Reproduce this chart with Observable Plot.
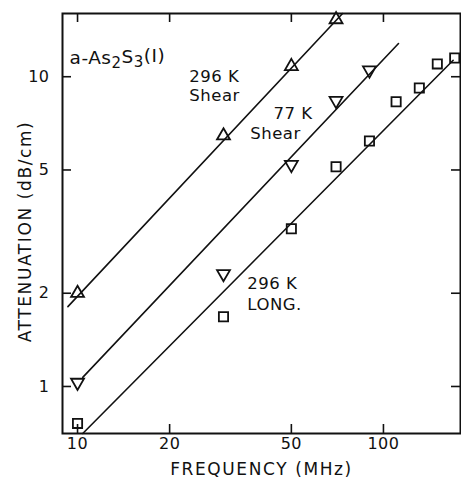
<!DOCTYPE html>
<html>
<head>
<meta charset="utf-8">
<script src="https://cdn.jsdelivr.net/npm/d3@7"></script>
<script src="https://cdn.jsdelivr.net/npm/@observablehq/plot@0.6"></script>
<style>
  body { margin: 0; background: #fff; }
  #chart svg { display: block; }
</style>
</head>
<body>
<div id="chart"></div>
<script>
// ---- data ----
const xTicks = [10, 20, 50, 100];
const yTicks = [1, 2, 5, 10];

// 296 K shear (open up-triangles)
const shear296Freq = [10, 30, 50, 70];
const shear296Att  = [2.0, 6.45, 10.8, 15.3];
// 77 K shear (open down-triangles)
const shear77Freq = [10, 30, 50, 70, 90];
const shear77Att  = [1.03, 2.31, 5.2, 8.37, 10.5];
// 296 K longitudinal (open squares)
const long296Freq = [10, 30, 50, 70, 90, 110, 131, 150, 171];
const long296Att  = [0.76, 1.68, 3.23, 5.12, 6.2, 8.3, 9.2, 11.0, 11.5];

// straight-line fits (end points)
const fit296ShearFreq = [9.3, 73.5];
const fit296ShearAtt  = [1.81, 16];
const fit77ShearFreq  = [10.4, 112];
const fit77ShearAtt   = [1.07, 12.8];
const fit296LongFreq  = [10.4, 169];
const fit296LongAtt   = [0.705, 11.3];

// annotations
const noteText = ["296 K", "Shear", "77 K", "Shear", "296 K", "LONG."];
const noteFreq = [23.2, 23.2, 43.7, 36.7, 35.9, 35.9];
const noteAtt  = [10.0, 8.69, 7.6, 6.55, 2.15, 1.83];
const sampleText = "a-As2S3(I)";
const sampleFreq = 9.42;
const sampleAtt = 11.5;

const xDomain = [8.93, 178.6];
const yDomain = [0.705, 16];

// ---- build ----
const pts = (f, a) => f.map((x, i) => ({f: x, a: a[i]}));
const notes = noteText.map((t, i) => ({t, f: noteFreq[i], a: noteAtt[i]}));

const font = "DejaVu Sans";
const W = 461, H = 484, mL = 62, mR = 1, mT = 13, mB = 51, tick = 9;
const frameW = W - mL - mR, frameH = H - mT - mB;

const chart = Plot.plot({
  width: W,
  height: H,
  marginLeft: mL,
  marginRight: mR,
  marginTop: mT,
  marginBottom: mB,
  style: {fontFamily: font, fontSize: "15px", color: "#111", background: "#fff", letterSpacing: "0.5px"},
  x: {type: "log", domain: xDomain, axis: null},
  y: {type: "log", domain: yDomain, axis: null},
  marks: [
    Plot.frame({stroke: "#111", strokeWidth: 2}),
    // tick labels
    Plot.text(xTicks, {x: d => d, frameAnchor: "bottom", dy: 15, text: d => String(d), fontSize: 16, fill: "#111"}),
    Plot.text(yTicks, {y: d => d, frameAnchor: "left", dx: -13, textAnchor: "end", text: d => String(d), fontSize: 16, fill: "#111"}),
    // inward ticks on all four sides
    Plot.tickX(xTicks, {x: d => d, insetTop: frameH - tick, stroke: "#111", strokeWidth: 1.6}),
    Plot.tickX(xTicks, {x: d => d, insetBottom: frameH - tick, stroke: "#111", strokeWidth: 1.6}),
    Plot.tickY(yTicks, {y: d => d, insetRight: frameW - tick, stroke: "#111", strokeWidth: 1.6}),
    Plot.tickY(yTicks, {y: d => d, insetLeft: frameW - tick, stroke: "#111", strokeWidth: 1.6}),
    // axis titles
    Plot.text(["ATTENUATION (dB/cm)"], {frameAnchor: "left", dx: -37, dy: 8, rotate: -90, fontSize: 17, text: d => d, textAnchor: "middle", fill: "#111"}),
    Plot.text(["FREQUENCY (MHz)"], {frameAnchor: "bottom", dy: 41, fontSize: 17, text: d => d, textAnchor: "middle", fill: "#111"}),
    // fit lines
    Plot.line(pts(fit296ShearFreq, fit296ShearAtt), {x: "f", y: "a", stroke: "#111", strokeWidth: 1.6}),
    Plot.line(pts(fit77ShearFreq, fit77ShearAtt), {x: "f", y: "a", stroke: "#111", strokeWidth: 1.6}),
    Plot.line(pts(fit296LongFreq, fit296LongAtt), {x: "f", y: "a", stroke: "#111", strokeWidth: 1.6}),
    // data points
    Plot.dot(pts(shear296Freq, shear296Att), {x: "f", y: "a", symbol: "triangle", r: 4.8, stroke: "#111", strokeWidth: 1.8, fill: "none"}),
    Plot.dot(pts(shear77Freq, shear77Att), {x: "f", y: "a", symbol: "triangle", rotate: 180, r: 4.8, stroke: "#111", strokeWidth: 1.8, fill: "none"}),
    Plot.dot(pts(long296Freq, long296Att), {x: "f", y: "a", symbol: "square", r: 5.2, stroke: "#111", strokeWidth: 1.8, fill: "none"}),
    // annotations
    Plot.text(notes, {x: "f", y: "a", text: "t", textAnchor: "start", fontSize: 16.5, fill: "#111"}),
    Plot.text([sampleText], {x: () => sampleFreq, y: () => sampleAtt, text: d => d, textAnchor: "start", fontSize: 18.5, fill: "#111"})
  ]
});
document.getElementById("chart").appendChild(chart);

// wider lettering for axis titles (reference lettering is broad)
d3.select(chart).selectAll("text").filter(function() {
  const t = this.textContent;
  return t === "ATTENUATION (dB/cm)" || t === "FREQUENCY (MHz)";
}).style("letter-spacing", "1.6px");

// real subscripts in the sample label
d3.select(chart).selectAll("text").filter(function() { return this.textContent === sampleText; })
  .each(function() {
    const el = d3.select(this);
    el.text(null);
    const parts = [["a-As", false], ["2", true], ["S", false], ["3", true], ["(I)", false]];
    for (const [s, sub] of parts) {
      const ts = el.append("tspan").text(s);
      if (sub) ts.attr("font-size", "15px").attr("dy", "0.3em");
      else ts.attr("dy", s === "a-As" ? null : "-0.3em");
    }
  });
</script>
</body>
</html>
